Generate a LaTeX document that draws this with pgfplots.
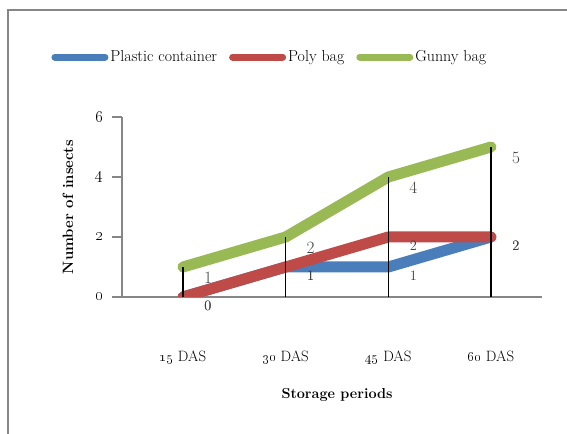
\documentclass[border=0pt]{standalone}
\usepackage{pgfplots}
\pgfplotsset{compat=1.18}
\definecolor{cblue}{HTML}{4A7EBB}
\definecolor{cred}{HTML}{BE4B48}
\definecolor{cgreen}{HTML}{98B954}
\definecolor{axgray}{HTML}{868686}
\definecolor{labgray}{HTML}{404040}

\begin{document}
\begin{tikzpicture}[x=1bp,y=1bp]
\useasboundingbox (0,0) rectangle (567,434);
% frame of the chart area
\draw[axgray, line width=1.5bp] (8,-5) -- (8,424) -- (580,424);
\begin{axis}[
  at={(122bp,137bp)}, anchor=south west,
  scale only axis, width=420bp, height=180bp,
  xmin=-0.594, xmax=3.497, ymin=0, ymax=6,
  axis x line=bottom, axis y line=left,
  axis line style={-, axgray, line width=1.2bp},
  xtick={0,1,2,3},
  xticklabels={\oldstylenums{15} DAS,\oldstylenums{30} DAS,\oldstylenums{45} DAS,\oldstylenums{60} DAS},
  major x tick style={draw=none},
  xticklabel style={font=\fontsize{15}{17}\selectfont, yshift=-40bp},
  ytick={0,2,4,6},
  yticklabels={\oldstylenums{0},\oldstylenums{2},\oldstylenums{4},\oldstylenums{6}},
  yticklabel style={font=\fontsize{19}{21}\selectfont, xshift=-5bp},
  tick align=outside, major tick length=10bp,
  y tick style={axgray, line width=1.2bp},
  xlabel={\textbf{Storage periods}},
  xlabel style={at={(axis description cs:0.512,-0.544)}, anchor=center, font=\fontsize{14.5}{16}\selectfont},
  ylabel={\textbf{Number of insects}},
  ylabel style={at={(axis description cs:-0.129,0.5)}, anchor=center, font=\fontsize{15}{17}\selectfont},
  legend columns=3,
  legend style={at={(axis description cs:0.352,1.333)}, anchor=center, draw=none, fill=none,
    font=\fontsize{16}{18}\selectfont,
    /tikz/every even column/.append style={column sep=10bp}},
  legend image code/.code={\draw[#1, line width=7bp, line cap=round] (0bp,0bp) -- (50bp,0bp);},
  nodes near coords,
  nodes near coords style={anchor=center, xshift=25bp, yshift=-9bp, text=labgray, font=\fontsize{14}{16}\selectfont},
  every axis plot/.append style={line width=11bp, line cap=round, line join=round},
]
\addplot[cblue] coordinates {(0,0) (1,1) (2,1) (3,2)};
\addlegendentry{Plastic container}
\addplot[cred] coordinates {(0,0) (1,1) (2,2) (3,2)};
\addlegendentry{Poly bag}
\addplot[cgreen, nodes near coords style={font=\fontsize{17}{19}\selectfont, yshift=-2bp}] coordinates {(0,1) (1,2) (2,4) (3,5)};
\addlegendentry{Gunny bag}
\addplot[ycomb, black, line width=1.6bp, line cap=butt, mark=none, nodes near coords={}, forget plot] coordinates {(0,1) (1,2) (2,4) (3,5)};
\end{axis}
\end{tikzpicture}
\end{document}
